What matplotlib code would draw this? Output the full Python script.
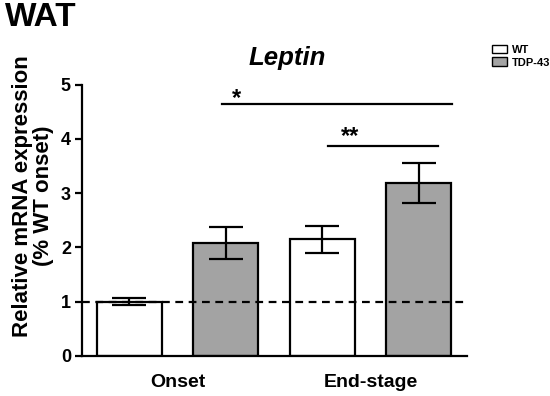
import numpy as np
import matplotlib
matplotlib.use("Agg")
import matplotlib.pyplot as plt
from matplotlib.patches import Patch

plt.rcParams['font.family'] = ['Liberation Sans', 'DejaVu Sans']
plt.rcParams['font.weight'] = 'bold'

# data
stages = ['Onset', 'End-stage']
groups = ['WT', 'TDP-43']
means = [1.0, 2.08, 2.15, 3.18]
sems = [0.06, 0.30, 0.25, 0.37]
bar_colors = ['white', '#a3a3a3', 'white', '#a3a3a3']

fig = plt.figure(figsize=(5.5, 3.96), dpi=100)
ax = fig.add_axes([82/550, 1-356/396, (467-82)/550, (356-84.5)/396])

x = np.arange(len(means))
ax.bar(x, means, width=0.67, color=bar_colors, edgecolor='black', linewidth=1.6,
       zorder=2)
ax.errorbar(x, means, yerr=sems, fmt='none', ecolor='black', elinewidth=1.6,
            capsize=12, capthick=1.6, zorder=3)

ax.axhline(1, color='black', linestyle=(0, (3.5, 2.5)), linewidth=1.6, zorder=4)

ax.set_xlim(-0.49, 3.5)
ax.set_ylim(0, 5)
ax.set_yticks(range(6))
ax.set_xticks([0.5, 2.5])
ax.set_xticklabels(stages, fontsize=14, fontweight='bold')
ax.tick_params(axis='x', length=0, pad=13)
ax.tick_params(axis='y', direction='out', length=5, width=1.6, labelsize=13, pad=3)
for lab in ax.get_yticklabels():
    lab.set_fontweight('bold')
for s in ['top', 'right']:
    ax.spines[s].set_visible(False)
for s in ['left', 'bottom']:
    ax.spines[s].set_linewidth(1.6)

fig.text(33/550, 1-196/396, 'Relative mRNA expression\n(% WT onset)', fontsize=16,
         fontweight='bold', rotation=90, ha='center', va='center',
         multialignment='center', linespacing=0.98)
fig.text(287/550, 1-58/396, 'Leptin', fontsize=18.5, fontweight='bold',
         style='italic', ha='center', va='center')

# significance bars
ax.plot([0.96, 3.34], [4.64, 4.64], color='black', linewidth=1.6, clip_on=False)
ax.text(1.11, 4.74, '*', fontsize=17, ha='center', va='center', fontweight='bold')
ax.plot([2.06, 3.20], [3.87, 3.87], color='black', linewidth=1.6, clip_on=False)
ax.text(2.29, 4.04, '**', fontsize=17, ha='center', va='center', fontweight='bold')

fig.text(5/550, 1-18/396, 'WAT', fontsize=24, fontweight='bold', va='center')

handles = [Patch(facecolor=c, edgecolor='black', linewidth=1) for c in ['white', '#a3a3a3']]
fig.legend(handles, groups, loc='upper left', bbox_to_anchor=(486/550, 1-39/396),
           frameon=False, fontsize=8, handlelength=1.4, handleheight=0.8,
           handletextpad=0.4, labelspacing=0.25, borderpad=0)

fig.savefig('out.png', dpi=100)
